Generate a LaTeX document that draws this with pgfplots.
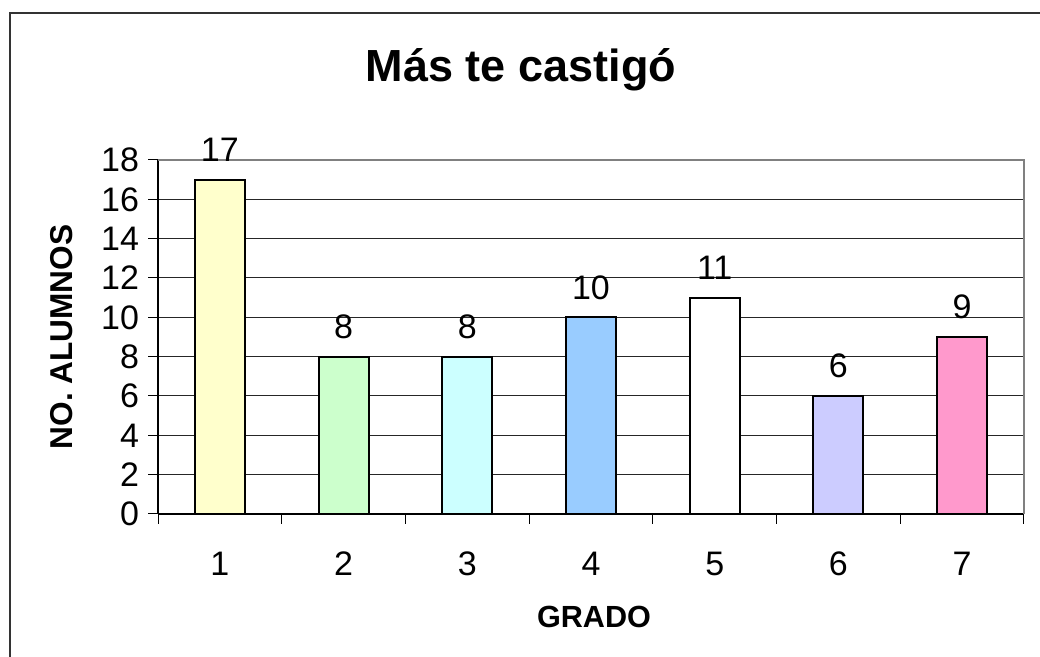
\documentclass[border=0pt]{standalone}
\usepackage{fontspec}
\setmainfont{Liberation Sans}
\usepackage{pgfplots}
\pgfplotsset{compat=1.18}

\definecolor{c1}{HTML}{FFFFCC}
\definecolor{c2}{HTML}{CCFFCC}
\definecolor{c3}{HTML}{CCFFFF}
\definecolor{c4}{HTML}{99CCFF}
\definecolor{c5}{HTML}{FFFFFF}
\definecolor{c6}{HTML}{CCCCFF}
\definecolor{c7}{HTML}{FF99CC}

\begin{document}
\begin{tikzpicture}
\useasboundingbox (0,0) rectangle (520pt,328.5pt);
% outer chart frame (left and top only visible)
\draw[line width=1pt,black!80] (5pt,0pt) -- (5pt,322pt) -- (520pt,322pt);
\begin{axis}[
  at={(79pt,71.5pt)},anchor=south west,
  scale only axis,width=433pt,height=177pt,
  ybar,bar width=25pt,bar shift=0pt,
  xmin=0.5,xmax=7.5,ymin=0,ymax=18,
  xtick={0.5,1.5,...,7.5},xticklabels={},
  extra x ticks={1,2,3,4,5,6,7},extra x tick labels={1,2,3,4,5,6,7},
  extra x tick style={major tick length=0pt},
  ytick={0,2,...,18},
  ymajorgrids,grid style={black!85,line width=0.5pt},
  tick style={black,line width=0.5pt},
  tick align=outside,major tick length=5pt,
  axis x line*=bottom,axis y line*=left,
  axis line style={black,line width=0.7pt,-},
  tick label style={font=\fontsize{17}{20}\selectfont},
  /pgf/number format/assume math mode=true,
  xticklabel style={yshift=-15.5pt},
  yticklabel style={xshift=-1pt},
  nodes near coords,
  every node near coord/.append style={font=\fontsize{17}{20}\selectfont,black,yshift=5pt},
  clip=false,
  every axis plot/.append style={draw=black,line width=1pt},
]
\addplot[fill=c1] coordinates {(1,17)};
\addplot[fill=c2] coordinates {(2,8)};
\addplot[fill=c3] coordinates {(3,8)};
\addplot[fill=c4] coordinates {(4,10)};
\addplot[fill=c5] coordinates {(5,11)};
\addplot[fill=c6] coordinates {(6,6)};
\addplot[fill=c7] coordinates {(7,9)};
\draw[gray,line width=1pt] (rel axis cs:0,1) -- (rel axis cs:1,1) -- (rel axis cs:1,0);
\end{axis}
\node[font=\bfseries\fontsize{22.5}{26}\selectfont] at (260.5pt,293.5pt) {Más te castigó};
\node[font=\bfseries\fontsize{15.8}{18}\selectfont,rotate=90] at (31pt,160pt) {NO. ALUMNOS};
\node[font=\bfseries\fontsize{15.3}{18}\selectfont] at (297pt,20pt) {GRADO};
\end{tikzpicture}
\end{document}
